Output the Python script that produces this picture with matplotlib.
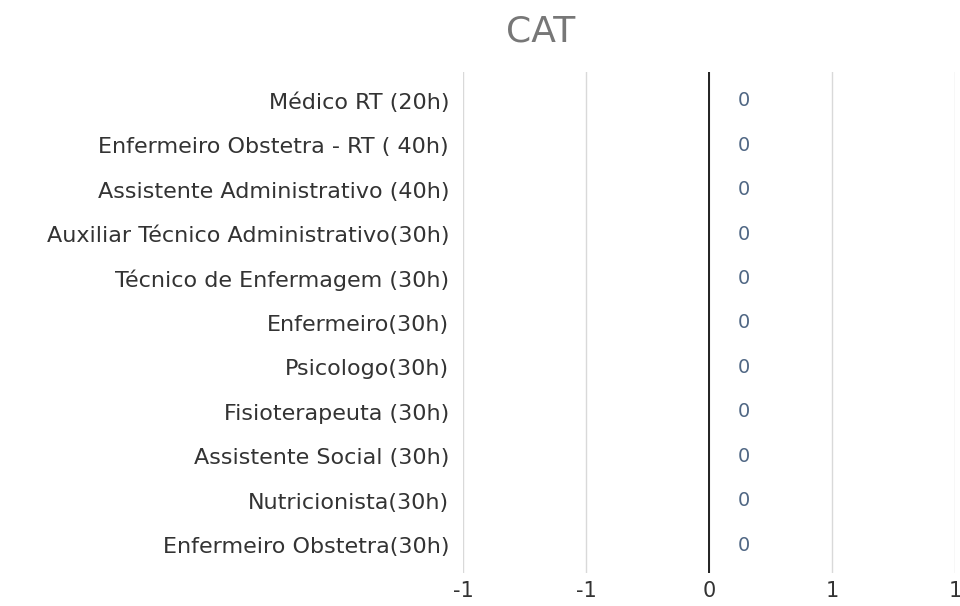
import numpy as np
import matplotlib
matplotlib.use("Agg")
import matplotlib.pyplot as plt

categories = [
    "Médico RT (20h)",
    "Enfermeiro Obstetra - RT ( 40h)",
    "Assistente Administrativo (40h)",
    "Auxiliar Técnico Administrativo(30h)",
    "Técnico de Enfermagem (30h)",
    "Enfermeiro(30h)",
    "Psicologo(30h)",
    "Fisioterapeuta (30h)",
    "Assistente Social (30h)",
    "Nutricionista(30h)",
    "Enfermeiro Obstetra(30h)",
]
values = [0, 0, 0, 0, 0, 0, 0, 0, 0, 0, 0]
xticks = [-1, -0.5, 0, 0.5, 1]
xtick_labels = ["-1", "-1", "0", "1", "1"]

fig = plt.figure(figsize=(9.6, 6.06), dpi=100)
ax = fig.add_axes([463 / 960, 1 - 573 / 606, 492 / 960, 501 / 606])

y = np.arange(len(categories))
ax.barh(y, values, height=0.6, color="#4c78a8")
for yi, v in zip(y, values):
    ax.annotate(str(v), (v, yi), xytext=(21, 0), textcoords="offset points",
                ha="left", va="center", fontsize=14, color="#506784")

ax.set_xlim(-1, 1)
ax.set_ylim(10.63, -0.65)
ax.set_yticks(y)
ax.set_yticklabels(categories, fontsize=16, color="#333333")
ax.set_xticks(xticks)
ax.set_xticklabels(xtick_labels, fontsize=15, color="#333333")
ax.tick_params(axis="y", length=0, pad=10)
ax.tick_params(axis="x", length=0, pad=6)

ax.grid(axis="x", color="#d9d9d9", linewidth=1)
ax.set_axisbelow(True)
ax.axvline(0, color="#222222", linewidth=1.4)
for s in ax.spines.values():
    s.set_visible(False)

fig.text(541 / 960, 1 - 32 / 606, "CAT", ha="center", va="center",
         fontsize=26, color="#777777")

fig.savefig("out.png", dpi=100)
